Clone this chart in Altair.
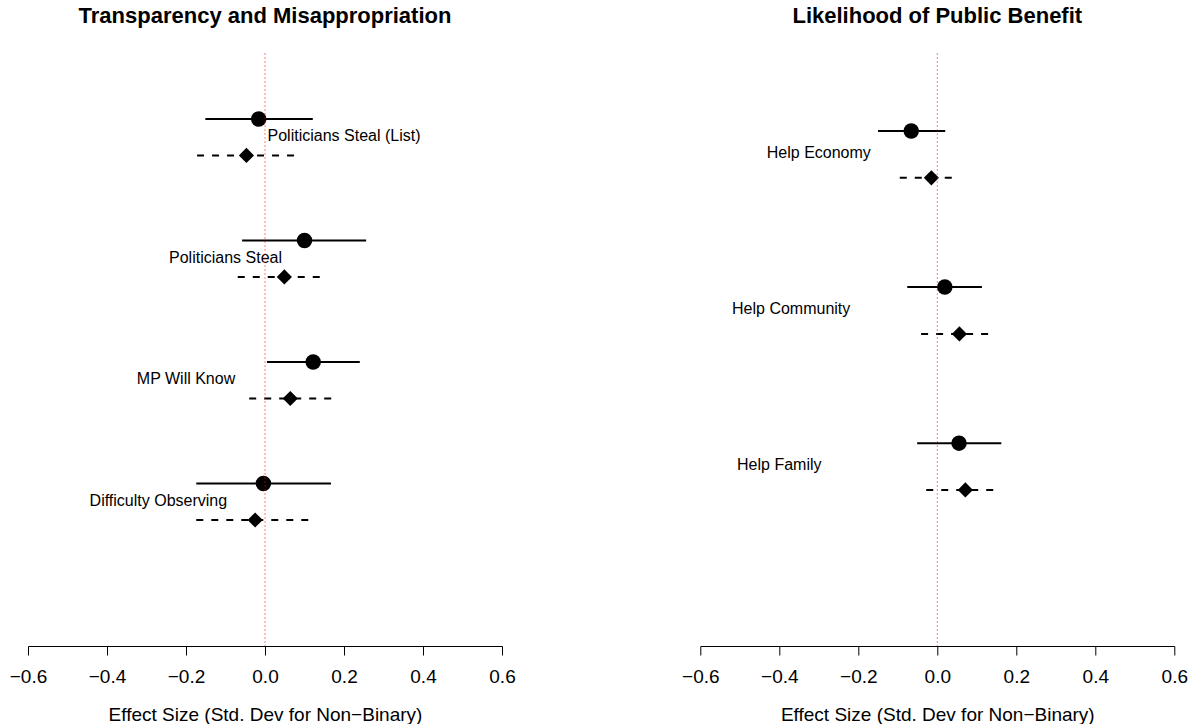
import altair as alt
import pandas as pd

FONT = "Liberation Sans, Arial, Helvetica, sans-serif"

# ---- Left panel data ----
left_title = "Transparency and Misappropriation"
left_labels = ["Politicians Steal (List)", "Politicians Steal", "MP Will Know", "Difficulty Observing"]
left_est1 = [-0.016, 0.100, 0.122, -0.004]
left_lo1 = [-0.151, -0.058, 0.005, -0.174]
left_hi1 = [0.121, 0.256, 0.240, 0.167]
left_est2 = [-0.047, 0.049, 0.064, -0.025]
left_lo2 = [-0.172, -0.069, -0.040, -0.174]
left_hi2 = [0.082, 0.155, 0.172, 0.125]
left_label_x = [0.20, -0.10, -0.20, -0.27]

# ---- Right panel data ----
right_title = "Likelihood of Public Benefit"
right_labels = ["Help Economy", "Help Community", "Help Family"]
right_est1 = [-0.066, 0.019, 0.055]
right_lo1 = [-0.150, -0.076, -0.051]
right_hi1 = [0.020, 0.113, 0.162]
right_est2 = [-0.015, 0.056, 0.071]
right_lo2 = [-0.095, -0.041, -0.028]
right_hi2 = [0.046, 0.143, 0.156]
right_label_x = [-0.30, -0.37, -0.40]

x_ticks = [-0.6, -0.4, -0.2, 0.0, 0.2, 0.4, 0.6]
x_title = "Effect Size (Std. Dev for Non\u2212Binary)"

W, H = 474, 593


def panel(title, labels, est1, lo1, hi1, est2, lo2, hi2, label_x, ydomain):
    n = len(labels)
    rows = list(range(1, n + 1))
    d1 = pd.DataFrame({"row": rows, "est": est1, "lo": lo1, "hi": hi1})
    d2 = pd.DataFrame({"row": [r + 0.3 for r in rows], "est": est2, "lo": lo2, "hi": hi2})
    dl = pd.DataFrame({"row": [r + 0.14 for r in rows], "x": label_x, "label": labels})

    xs = alt.Scale(domain=[-0.6, 0.6], nice=False, zero=False)
    ys = alt.Scale(domain=ydomain, reverse=True, nice=False, zero=False)
    xaxis = alt.Axis(values=x_ticks, format=".1f", grid=False, labelFlush=False,
                     tickSize=9, labelPadding=27, labelBaseline="alphabetic",
                     titleY=74, titleBaseline="alphabetic")

    def X(f):
        return alt.X(f, scale=xs, axis=xaxis, title=x_title)

    Y = alt.Y("row:Q", scale=ys, axis=None)

    ci1 = alt.Chart(d1).mark_rule(color="black", strokeWidth=2).encode(
        x=X("lo:Q"), x2="hi:Q", y=Y)
    ci2 = alt.Chart(d2).mark_rule(color="black", strokeWidth=2, strokeDash=[7, 8]).encode(
        x=X("lo:Q"), x2="hi:Q", y=Y)
    p1 = alt.Chart(d1).mark_point(shape="circle", filled=True, size=240, color="black", opacity=1).encode(
        x=X("est:Q"), y=Y)
    p2 = alt.Chart(d2).mark_point(shape="diamond", filled=True, size=230, color="black", opacity=1).encode(
        x=X("est:Q"), y=Y)
    txt = alt.Chart(dl).mark_text(fontSize=16, font=FONT, color="black", baseline="middle", align="center").encode(
        x=X("x:Q"), y=Y, text="label:N")
    zero = alt.Chart(pd.DataFrame({"z": [0.0]})).mark_rule(
        color="#ff0000", opacity=0.5, strokeWidth=1, strokeDash=[2, 2]).encode(
        x=X("z:Q"), y=alt.value(0), y2=alt.value(H))
    ttl = alt.Chart(pd.DataFrame({"t": [title]})).mark_text(
        fontSize=22, fontWeight="bold", font=FONT, color="black", baseline="alphabetic", align="center").encode(
        text="t:N", x=alt.value(W / 2), y=alt.value(-30))

    return alt.layer(ci1, ci2, p1, p2, txt, zero, ttl).properties(width=W, height=H)


left = panel(left_title, left_labels, left_est1, left_lo1, left_hi1, left_est2, left_lo2, left_hi2,
             left_label_x, [0.457, 5.337])
right = panel(right_title, right_labels, right_est1, right_lo1, right_hi1, right_est2, right_lo2, right_hi2,
              right_label_x, [0.5, 4.3])

chart = alt.hconcat(left, right, spacing=198.3, bounds="flush").properties(
    padding={"left": 9, "top": 5, "right": 5, "bottom": 0},
    background="white",
).configure_view(stroke=None).configure_axis(
    domainColor="black", tickColor="black", labelColor="black", titleColor="black",
    labelFont=FONT, titleFont=FONT, labelFontSize=19, titleFontSize=19,
    titleFontWeight="normal", domainWidth=1, tickWidth=1,
)

chart.save("out.html", embed_options={"renderer": "svg", "actions": False})
